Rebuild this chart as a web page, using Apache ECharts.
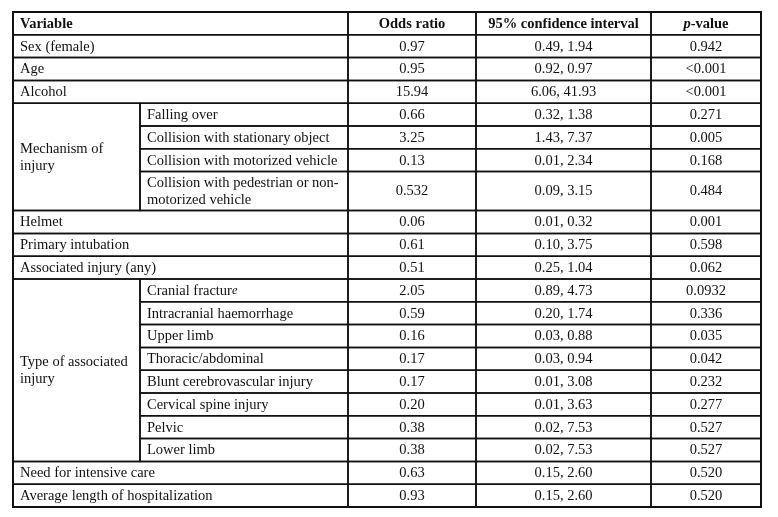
<!DOCTYPE html>
<html>
<head>
<meta charset="utf-8">
<script src="https://cdn.jsdelivr.net/npm/echarts@6/dist/echarts.min.js"></script>
<style>
  html, body { margin: 0; padding: 0; background: #ffffff; }
  #chart { width: 778px; height: 517px; }
</style>
</head>
<body>
<div id="chart"></div>
<script>
// ---- Data ----
const headers = ['Variable', 'Odds ratio', '95% confidence interval', '{ib|p}-value'];
const variables = [
  'Sex (female)', 'Age', 'Alcohol',
  'Mechanism of\ninjury', 'Mechanism of\ninjury', 'Mechanism of\ninjury', 'Mechanism of\ninjury',
  'Helmet', 'Primary intubation', 'Associated injury (any)',
  'Type of associated\ninjury', 'Type of associated\ninjury', 'Type of associated\ninjury', 'Type of associated\ninjury',
  'Type of associated\ninjury', 'Type of associated\ninjury', 'Type of associated\ninjury', 'Type of associated\ninjury',
  'Need for intensive care', 'Average length of hospitalization'
];
const subtypes = [
  '', '', '',
  'Falling over', 'Collision with stationary object', 'Collision with motorized vehicle',
  'Collision with pedestrian or non-\nmotorized vehicle',
  '', '', '',
  'Cranial fractur{i|e}', 'Intracranial haemorrhage', 'Upper limb', 'Thoracic/abdominal',
  'Blunt cerebrovascular injury', 'Cervical spine injury', 'Pelvic', 'Lower limb',
  '', ''
];
const oddsRatios = ['0.97', '0.95', '15.94', '0.66', '3.25', '0.13', '0.532', '0.06', '0.61', '0.51',
  '2.05', '0.59', '0.16', '0.17', '0.17', '0.20', '0.38', '0.38', '0.63', '0.93'];
const confidenceIntervals = ['0.49, 1.94', '0.92, 0.97', '6.06, 41.93', '0.32, 1.38', '1.43, 7.37', '0.01, 2.34',
  '0.09, 3.15', '0.01, 0.32', '0.10, 3.75', '0.25, 1.04', '0.89, 4.73', '0.20, 1.74', '0.03, 0.88',
  '0.03, 0.94', '0.01, 3.08', '0.01, 3.63', '0.02, 7.53', '0.02, 7.53', '0.15, 2.60', '0.15, 2.60'];
const pValues = ['0.942', '<0.001', '<0.001', '0.271', '0.005', '0.168', '0.484', '0.001', '0.598', '0.062',
  '0.0932', '0.336', '0.035', '0.042', '0.232', '0.277', '0.527', '0.527', '0.520', '0.520'];

// ---- Layout (table geometry in axis units) ----
const colEdges = [0, 127, 335, 463, 638, 748];
const doubleRowUnits = 1.71;

// row positions (y units, header = row of height 1)
const rowTop = [];
const rowH = [];
let yCursor = 1;
for (let i = 0; i < variables.length; i++) {
  const h = subtypes[i].indexOf('\n') >= 0 ? doubleRowUnits : 1;
  rowTop.push(yCursor); rowH.push(h); yCursor += h;
}
const totalUnits = yCursor;

const cells = [];
// header
cells.push({ x0: colEdges[0], x1: colEdges[2], y0: 0, y1: 1, text: headers[0], align: 'left', bold: true });
cells.push({ x0: colEdges[2], x1: colEdges[3], y0: 0, y1: 1, text: headers[1], align: 'center', bold: true });
cells.push({ x0: colEdges[3], x1: colEdges[4], y0: 0, y1: 1, text: headers[2], align: 'center', bold: true });
cells.push({ x0: colEdges[4], x1: colEdges[5], y0: 0, y1: 1, text: headers[3], align: 'center', bold: true });
// variable groups
let i = 0;
while (i < variables.length) {
  let j = i;
  while (j + 1 < variables.length && variables[j + 1] === variables[i]) j++;
  if (subtypes[i] === '') {
    cells.push({ x0: colEdges[0], x1: colEdges[2], y0: rowTop[i], y1: rowTop[i] + rowH[i], text: variables[i], align: 'left' });
  } else {
    cells.push({ x0: colEdges[0], x1: colEdges[1], y0: rowTop[i], y1: rowTop[j] + rowH[j], text: variables[i], align: 'left' });
    for (let k = i; k <= j; k++) {
      cells.push({ x0: colEdges[1], x1: colEdges[2], y0: rowTop[k], y1: rowTop[k] + rowH[k], text: subtypes[k], align: 'left' });
    }
  }
  i = j + 1;
}
// numeric columns
for (let r = 0; r < variables.length; r++) {
  const y0 = rowTop[r], y1 = rowTop[r] + rowH[r];
  cells.push({ x0: colEdges[2], x1: colEdges[3], y0, y1, text: oddsRatios[r], align: 'center' });
  cells.push({ x0: colEdges[3], x1: colEdges[4], y0, y1, text: confidenceIntervals[r], align: 'center' });
  cells.push({ x0: colEdges[4], x1: colEdges[5], y0, y1, text: pValues[r], align: 'center' });
}
// outer frame
cells.push({ x0: colEdges[0], x1: colEdges[5], y0: 0, y1: totalUnits, text: '', align: 'left', frame: true });

const FONT = '"Liberation Serif", "Times New Roman", serif';
const chart = echarts.init(document.getElementById('chart'), null, { renderer: 'canvas' });
chart.setOption({
  backgroundColor: '#ffffff',
  animation: false,
  grid: { left: 13, right: 17, top: 12, bottom: 10 },
  xAxis: { type: 'value', min: 0, max: colEdges[colEdges.length - 1], show: false },
  yAxis: { type: 'value', min: 0, max: totalUnits, inverse: true, show: false },
  series: [{
    type: 'custom',
    coordinateSystem: 'cartesian2d',
    data: cells.map(c => [c.x0, c.y0, c.x1, c.y1]),
    renderItem: function (params, api) {
      const c = cells[params.dataIndex];
      const p0 = api.coord([c.x0, c.y0]);
      const p1 = api.coord([c.x1, c.y1]);
      const w = p1[0] - p0[0];
      const h = p1[1] - p0[1];
      const children = [{
        type: 'rect',
        shape: { x: p0[0], y: p0[1], width: w, height: h },
        style: { fill: null, stroke: '#111111', lineWidth: c.frame ? 2 : 1.5 },
        z2: c.frame ? 10 : 1
      }];
      if (c.text) {
        children.push({
          type: 'text',
          x: c.align === 'left' ? p0[0] + 7 : p0[0] + w / 2,
          y: p0[1] + h / 2 + 0.5,
          style: {
            text: c.text,
            align: c.align,
            verticalAlign: 'middle',
            fontFamily: FONT,
            fontSize: 14.5,
            fontWeight: c.bold ? 'bold' : 'normal',
            lineHeight: 17,
            fill: '#111111',
            rich: {
              ib: { fontFamily: FONT, fontSize: 14.5, fontWeight: 'bold', fontStyle: 'italic', fill: '#111111' },
              i: { fontFamily: FONT, fontSize: 12.5, fontStyle: 'italic', fill: '#111111' }
            }
          },
          z2: 5
        });
      }
      return { type: 'group', children: children };
    }
  }]
});
</script>
</body>
</html>
